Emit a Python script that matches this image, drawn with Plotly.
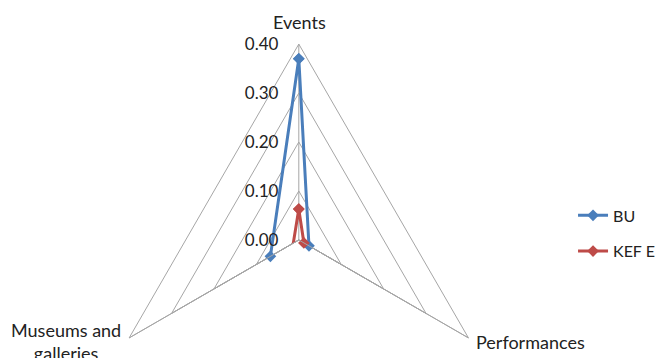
import plotly.graph_objects as go

categories = ["Events", "Performances", "Museums and galleries"]
bu_values = [0.37, 0.024, 0.067]
kef_values = [0.063, 0.012, 0.013]
radial_ticks = [0.0, 0.1, 0.2, 0.3, 0.4]

def closed(v):
    return list(v) + [v[0]]

fig = go.Figure()
fig.add_trace(go.Scatterpolar(
    r=closed(bu_values), theta=closed(categories), name="BU", mode="lines+markers",
    line=dict(color="#4A7EBB", width=3), marker=dict(symbol="diamond", size=9, color="#4A7EBB"),
    legendgroup="a"))
fig.add_trace(go.Scatterpolar(
    r=closed(kef_values), theta=closed(categories), name="KEF E", mode="lines+markers",
    line=dict(color="#BE4B48", width=3), marker=dict(symbol="diamond", size=9, color="#BE4B48"),
    legendgroup="b"))

label_font = dict(family="Lato, Carlito, sans-serif", size=18, color="#222222")
fig.add_annotation(text=categories[0], x=299 / 664, y=(358 - 22) / 358, xref="paper", yref="paper",
                   xanchor="center", yanchor="middle", showarrow=False, font=label_font)
fig.add_annotation(text=categories[1], x=474 / 664, y=(358 - 342) / 358, xref="paper", yref="paper",
                   xanchor="left", yanchor="middle", showarrow=False, font=label_font)
fig.add_annotation(text=categories[2].replace("and ", "and<br>"), x=66 / 664, y=(358 - 341) / 358,
                   xref="paper", yref="paper", xanchor="center", yanchor="middle", showarrow=False,
                   font=label_font, align="center")

fig.update_layout(
    width=664, height=358,
    margin=dict(l=0, r=0, t=0, b=0),
    paper_bgcolor="white", plot_bgcolor="white",
    font=dict(family="Lato, Carlito, sans-serif", size=16, color="#222222"),
    polar=dict(
        domain=dict(x=[0.155, 0.745], y=[0.056, 0.877]),
        sector=[-30, 210],
        gridshape="linear",
        bgcolor="white",
        angularaxis=dict(
            direction="clockwise", rotation=90, type="category",
            showline=True, linecolor="#A6A6A6", linewidth=1,
            gridcolor="#A6A6A6", gridwidth=1, ticks="", showticklabels=False,
        ),
        radialaxis=dict(
            range=[0, 0.4], tickvals=radial_ticks, tickformat=".2f",
            angle=90, side="counterclockwise", tickangle=90,
            showline=False, gridcolor="#A6A6A6", gridwidth=1,
            ticks="outside", ticklen=14, tickcolor="rgba(0,0,0,0)",
            tickfont=dict(size=17, color="#222222"),
        ),
    ),
    showlegend=True,
    legend=dict(x=0.863, y=0.348, xanchor="left", yanchor="middle",
                tracegroupgap=12, font=dict(size=16)),
)

fig.write_html("out.html", config={"displayModeBar": False},
               post_script="document.body.style.margin='0';document.body.style.padding='0';"
                           "document.body.style.overflow='hidden';")
